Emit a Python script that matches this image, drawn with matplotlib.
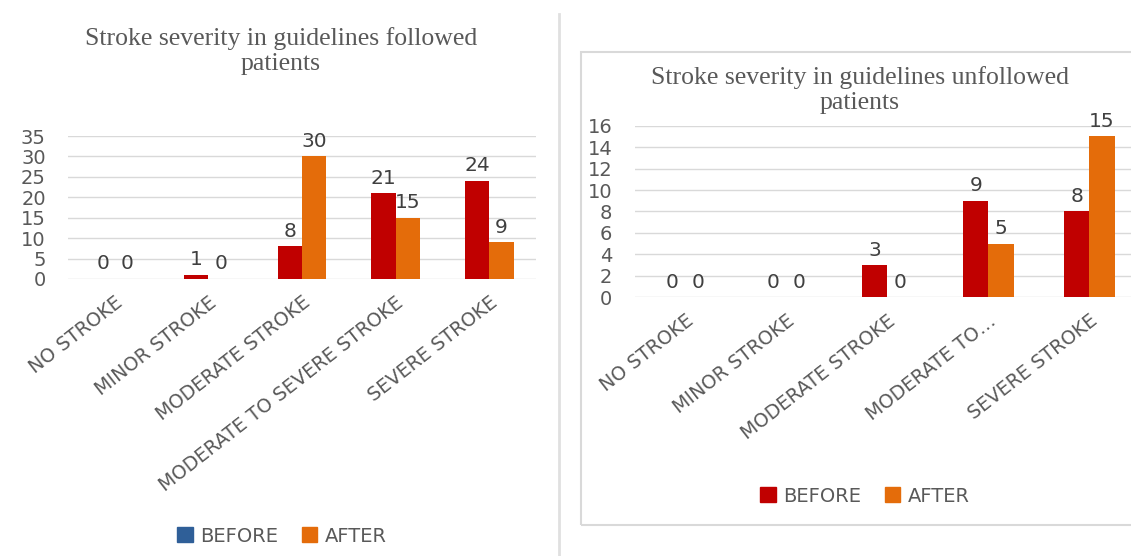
import matplotlib
matplotlib.use("Agg")
import matplotlib.pyplot as plt
from matplotlib.patches import Patch, Rectangle
from matplotlib.lines import Line2D
import numpy as np

# ---- data ----
categories = ["NO STROKE", "MINOR STROKE", "MODERATE STROKE",
              "MODERATE TO SEVERE STROKE", "SEVERE STROKE"]
categories_short = ["NO STROKE", "MINOR STROKE", "MODERATE STROKE",
                    "MODERATE TO\u2026", "SEVERE STROKE"]
followed_before = [0, 1, 8, 21, 24]
followed_after = [0, 0, 30, 15, 9]
unfollowed_before = [0, 0, 3, 9, 8]
unfollowed_after = [0, 0, 0, 5, 15]
followed_ticks = [0, 5, 10, 15, 20, 25, 30, 35]
unfollowed_ticks = [0, 2, 4, 6, 8, 10, 12, 14, 16]
series_names = ["BEFORE", "AFTER"]

# ---- style ----
RED = "#C00000"
ORANGE = "#E46C0A"
BLUE = "#2F5F98"
GRID = "#D9D9D9"
TXT = "#595959"
LBL = "#404040"
FONT = "DejaVu Sans"
SERIF = "Liberation Serif"

W, H = 1131, 556
fig = plt.figure(figsize=(W / 100, H / 100), dpi=100)


def px_rect(x0, y0, x1, y1):
    """Convert pixel box (top-left origin) into figure fraction rect."""
    return [x0 / W, 1 - y1 / H, (x1 - x0) / W, (y1 - y0) / H]


def draw_panel(ax, labels, before, after, ticks, width):
    x = np.arange(len(labels))
    b1 = ax.bar(x - width / 2, before, width, color=RED, zorder=3)
    b2 = ax.bar(x + width / 2, after, width, color=ORANGE, zorder=3)
    for bars in (b1, b2):
        for rect in bars:
            v = rect.get_height()
            ax.annotate(f"{v:g}", (rect.get_x() + rect.get_width() / 2, v),
                        xytext=(0, 4), textcoords="offset points",
                        ha="center", va="bottom", fontsize=14.5,
                        color=LBL, family=FONT)
    ax.set_xlim(-0.5, len(labels) - 0.5)
    ax.set_ylim(ticks[0], ticks[-1])
    ax.set_yticks(ticks)
    ax.set_yticklabels([str(t) for t in ticks], fontsize=14, color=TXT,
                       family=FONT)
    ax.set_xticks(x)
    ax.set_xticklabels(labels, rotation=38, ha="right", va="top",
                       rotation_mode="anchor", fontsize=13.8, color=TXT,
                       family=FONT)
    ax.tick_params(axis="both", length=0)
    ax.tick_params(axis="y", pad=16)
    ax.tick_params(axis="x", pad=10)
    ax.grid(axis="y", color=GRID, linewidth=1, zorder=0)
    for s in ax.spines.values():
        s.set_visible(False)
    ax.set_facecolor("none")


# divider between the two panels
fig.add_artist(Line2D([559 / W, 559 / W], [0, 1 - 14 / H],
                      transform=fig.transFigure, color="#E0E0E0", lw=2))
# frame around the second panel
fig.add_artist(Rectangle((581 / W, 1 - 525 / H), (W + 20 - 581) / W,
                         (525 - 52) / H, transform=fig.transFigure,
                         fill=False, edgecolor="#D9D9D9", lw=1.5))

# left panel: guidelines followed
ax1 = fig.add_axes(px_rect(68, 136, 536, 279))
draw_panel(ax1, categories, followed_before, followed_after,
           followed_ticks, 0.26)
fig.text(281 / W, 1 - 51 / H,
         "Stroke severity in guidelines followed\npatients",
         ha="center", va="center", fontsize=18.5, color=TXT, family=SERIF,
         linespacing=1.12)
fig.legend(handles=[Patch(color=BLUE), Patch(color=ORANGE)],
           labels=series_names, loc="center",
           bbox_to_anchor=(282 / W, 1 - 536 / H), ncol=2, frameon=False,
           handlelength=0.8, handleheight=0.8, handletextpad=0.4,
           columnspacing=1.2, prop={"family": FONT, "size": 14},
           labelcolor=TXT)

# right panel: guidelines unfollowed
ax2 = fig.add_axes(px_rect(634.5, 125.7, 1140, 297.3))
draw_panel(ax2, categories_short, unfollowed_before, unfollowed_after,
           unfollowed_ticks, 0.25)
fig.text(860 / W, 1 - 90 / H,
         "Stroke severity in guidelines unfollowed\npatients",
         ha="center", va="center", fontsize=18.5, color=TXT, family=SERIF,
         linespacing=1.12)
fig.legend(handles=[Patch(color=RED), Patch(color=ORANGE)],
           labels=series_names, loc="center",
           bbox_to_anchor=(865 / W, 1 - 496 / H), ncol=2, frameon=False,
           handlelength=0.8, handleheight=0.8, handletextpad=0.4,
           columnspacing=1.2, prop={"family": FONT, "size": 14},
           labelcolor=TXT)

fig.savefig("out.png", dpi=100, facecolor="white")
